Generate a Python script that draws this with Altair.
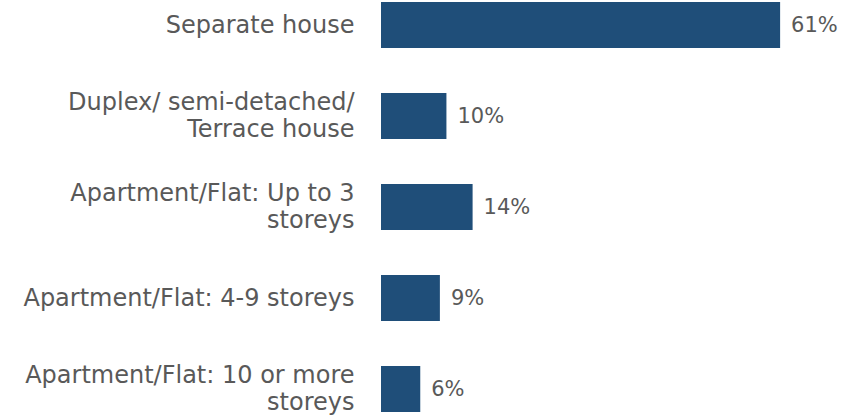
import altair as alt
import pandas as pd

categories = [
    "Separate house",
    "Duplex/ semi-detached/|Terrace house",
    "Apartment/Flat: Up to 3|storeys",
    "Apartment/Flat: 4-9 storeys",
    "Apartment/Flat: 10 or more|storeys",
]
values = [61, 10, 14, 9, 6]

df = pd.DataFrame({"cat": categories, "val": values})
df["lbl"] = df["val"].astype(str) + "%"

FONT = "DejaVu Sans"
GREY = "#595959"
BLUE = "#1F4E79"

y = alt.Y(
    "cat:N",
    sort=None,
    scale=alt.Scale(paddingInner=0.495, paddingOuter=0.022),
    axis=alt.Axis(
        title=None, ticks=False, domain=False, labelPadding=27,
        labelFont=FONT, labelFontSize=24, labelColor=GREY,
        labelLineHeight=27, labelLimit=400,
        labelExpr="split(datum.label, '|')",
        labelOffset={"condition": {"test": "indexof(datum.label, '|') >= 0", "value": -13}, "value": 1},
    ),
)
x = alt.X("val:Q", scale=alt.Scale(domain=[0, 70]), axis=None)

bars = alt.Chart(df).mark_bar(color=BLUE).encode(x=x, y=y)
text = alt.Chart(df).mark_text(
    align="left", baseline="middle", dx=11, dy=1, font=FONT, fontSize=21, color=GREY
).encode(x=x, y=y, text="lbl:N")

chart = (bars + text).properties(
    width=458, height=414,
    autosize=alt.AutoSizeParams(type="none"),
    padding={"left": 381, "top": 0, "right": 7, "bottom": 2},
    background="white",
).configure_view(strokeWidth=0)

chart.save("out.html", embed_options={"renderer": "svg", "actions": False})
